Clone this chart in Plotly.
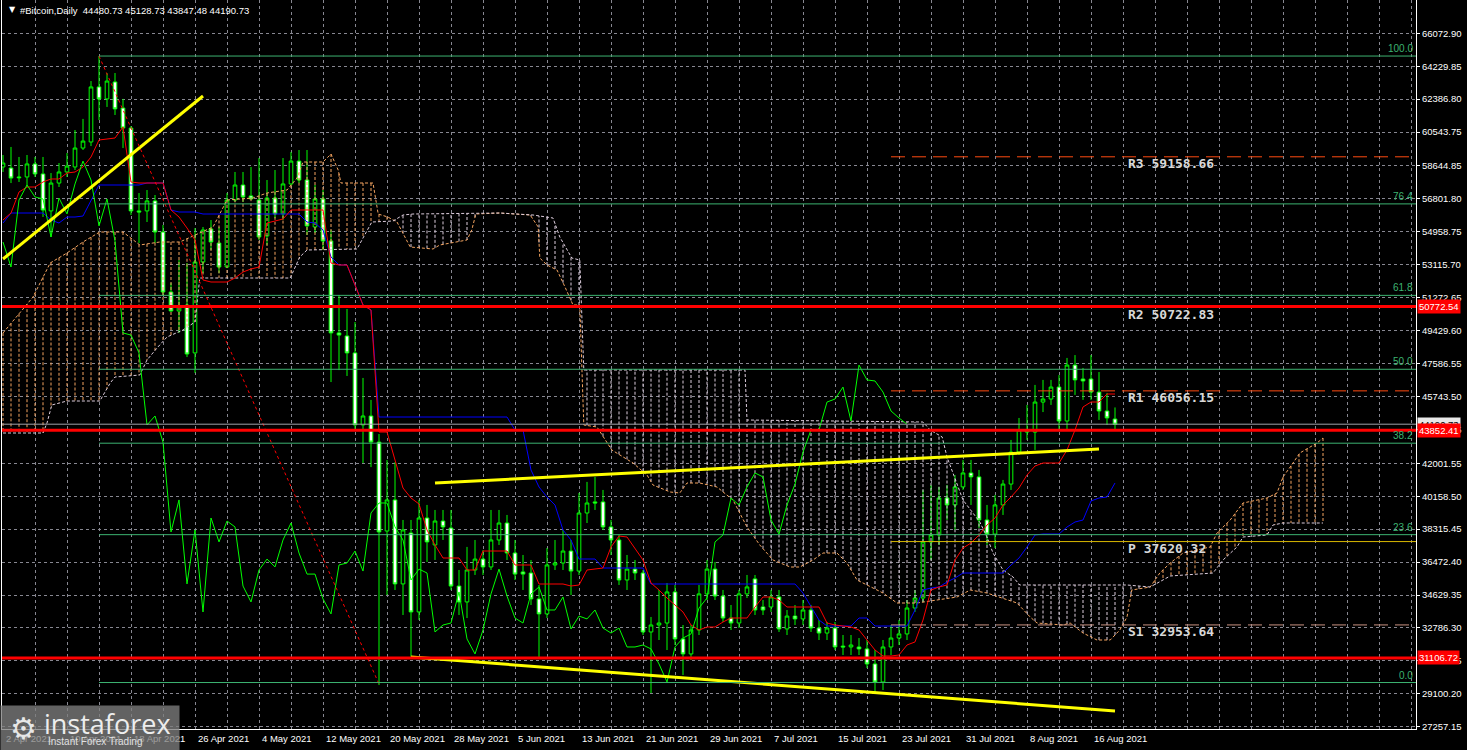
import numpy as np
import pandas as pd
import plotly.graph_objects as go

BASE = pd.Timestamp("2021-04-02")
DAY = pd.Timedelta(days=1)

# ---------------- candles (daily, 2 Apr 2021 .. 19 Aug 2021) ----------------
opens = [58590, 58530, 58030, 58030, 58760, 58200, 56130, 57690, 58310, 58590,
         59650, 59990, 63070, 62400, 63350, 61890, 60770, 56130, 56130, 56690,
         54950, 51590, 50530, 50860, 48180, 53270, 55120, 54330, 52990, 56740,
         57580, 56970, 56740, 54730, 56850, 55960, 57640, 58920, 57860, 55230,
         56800, 54450, 49300, 49130, 48180, 44150, 44650, 43190, 38210, 39950,
         35250, 38100, 33680, 38940, 37430, 38770, 38380, 35130, 34240, 36030,
         36640, 36200, 37710, 38660, 36980, 35920, 35860, 34410, 33570, 36310,
         36420, 37090, 35970, 39220, 39840, 39840, 38440, 37710, 35470, 36080,
         35860, 32560, 32950, 33060, 34800, 32170, 31330, 32670, 34690, 36080,
         34570, 33340, 33060, 34690, 35530, 33960, 33960, 34520, 32730, 33450,
         33290, 33790, 32780, 32500, 32780, 31770, 31720, 31720, 31610, 30770,
         29760, 31720, 32220, 32450, 33900, 34460, 37600, 37990, 40060, 39670,
         40680, 41460, 41240, 38830, 38040, 39670, 40840, 42630, 43750, 43750,
         45430, 45600, 46270, 44370, 47500, 46720, 46720, 45990, 44930, 44480.73]
highs = [59260, 59710, 59150, 59260, 59150, 59150, 58250, 58810, 59370, 60660,
         61280, 63400, 64800, 63850, 63850, 62400, 60880, 57130, 57300, 57020,
         55340, 52100, 53380, 53210, 55170, 55230, 55620, 55230, 57130, 58310,
         58310, 58590, 59090, 57860, 58420, 59090, 59430, 59540, 59540, 57580,
         57300, 55060, 51420, 50640, 49910, 46780, 45550, 43640, 42190, 42070,
         38830, 38830, 39950, 39670, 39390, 39390, 39390, 36030, 37320, 37710,
         37150, 39390, 39390, 39110, 37710, 36870, 36590, 35190, 37260, 37710,
         38270, 37710, 40340, 40960, 41240, 40510, 38830, 37990, 36870, 36590,
         36030, 33400, 34910, 35300, 35190, 32950, 32950, 35190, 36590, 36480,
         34910, 34070, 34910, 35750, 35750, 34350, 34910, 34910, 33790, 34070,
         34350, 34070, 33230, 33120, 33120, 32390, 32390, 32220, 32110, 31550,
         32110, 32950, 33230, 34350, 34910, 40510, 40790, 40680, 40790, 41350,
         42190, 42190, 41630, 39670, 40230, 41070, 43310, 44540, 45270, 46390,
         46670, 46670, 46940, 47900, 48060, 47340, 48060, 47110, 45940, 45128.73]
lows = [58310, 57690, 57750, 57470, 58030, 55790, 54670, 57470, 58030, 58420,
        59540, 59760, 61220, 61950, 61500, 59650, 55900, 54330, 55510, 54330,
        51370, 50470, 49300, 47950, 47060, 52650, 53940, 52650, 52930, 56630,
        56630, 56740, 54500, 54220, 55730, 55620, 57530, 57690, 54780, 54890,
        53940, 46550, 47220, 46890, 43870, 42020, 41790, 29590, 34630, 34910,
        33510, 31160, 33230, 36480, 36590, 37710, 34910, 33510, 33340, 35750,
        35750, 36030, 37430, 36590, 35470, 34910, 34070, 31160, 33340, 36030,
        36030, 34630, 35750, 38660, 39390, 38270, 36870, 35190, 34910, 35470,
        32390, 29140, 32110, 31550, 31830, 30150, 30990, 32390, 34350, 34350,
        33120, 32670, 32780, 34460, 33510, 33510, 33680, 32560, 32390, 32950,
        32950, 32560, 32110, 32110, 31550, 31270, 31270, 31270, 30540, 29200,
        29310, 31270, 31830, 32110, 33680, 34240, 36590, 37430, 38830, 38270,
        40510, 39670, 38380, 37430, 37260, 39110, 40510, 42470, 43310, 42750,
        44870, 45270, 43870, 43870, 45830, 45550, 45550, 44430, 44150, 43847.48]
closes = [58810, 57970, 57990, 58760, 58200, 56180, 57690, 58310, 58640, 59650,
          60040, 63070, 62400, 63400, 61840, 60770, 56130, 56070, 56690, 54950,
          51590, 50530, 50810, 48120, 53270, 55060, 54390, 52990, 56740, 57580,
          56910, 56800, 54670, 56850, 55960, 57640, 58920, 57860, 55290, 56800,
          54450, 49300, 49180, 48180, 44150, 44650, 43190, 38160, 39950, 35250,
          38270, 33680, 38940, 37600, 38770, 38440, 35130, 34240, 36030, 36640,
          36200, 37710, 38660, 36980, 35800, 35800, 34410, 33570, 36310, 36420,
          37090, 35970, 39220, 39780, 39780, 38440, 37710, 35470, 36080, 35860,
          32560, 32950, 33060, 34800, 32170, 31330, 32670, 34690, 36080, 34570,
          33340, 33060, 34690, 35080, 33790, 33790, 34520, 32730, 33450, 33290,
          33790, 32780, 32500, 32780, 31720, 31720, 31830, 31610, 30770, 29760,
          31720, 32220, 32450, 33900, 34460, 37600, 37990, 40060, 39670, 40680,
          41460, 41240, 38830, 38040, 39670, 40840, 42630, 43870, 43870, 45430,
          45600, 46270, 44370, 47500, 46670, 46610, 45990, 44930, 44540, 44190.73]
dates = BASE + DAY * np.arange(len(opens))

# ---------------- Ichimoku ----------------
tenkan = [55621, 56013, 57189, 57469, 57469, 57749, 57917, 57917, 58252, 58308,
          58588, 59148, 60100, 60156, 60212, 60828, 57749, 57693, 57693, 57693,
          57693, 56181, 55789, 55174, 54502, 52263, 52151, 52151, 52151, 52375,
          52711, 52878, 52990, 55453, 55565, 55677, 56181, 56181, 56181, 56181,
          56181, 53214, 53102, 53102, 51983, 50863, 50583, 43754, 43754, 42186,
          40619, 40059, 39723, 38268, 37428, 36700, 36700, 36700, 36028, 36028,
          37092, 37092, 37092, 37092, 36308, 36308, 36308, 35245, 35245, 35245,
          35245, 35133, 35189, 36028, 36084, 36140, 37316, 37932, 37876, 37260,
          36588, 35301, 34909, 34461, 34069, 33677, 32949, 32670, 32838, 32838,
          33117, 33341, 33341, 33341, 33957, 34517, 34517, 34349, 33957, 33957,
          33957, 33957, 33957, 33061, 32949, 32894, 32838, 32670, 32110, 31550,
          31214, 31214, 31270, 31830, 32001, 33229, 34909, 35077, 35189, 36588,
          37260, 37540, 37988, 38547, 38939, 39667, 40115, 40619, 41346, 41850,
          42018, 42018, 42018, 42746, 43866, 45153, 45433, 45433, 45881, 45881]
kijun = [55453, 56013, 56013, 56013, 56013, 56013, 55621, 55453, 55789, 55789,
         55845, 56741, 57581, 57581, 57581, 57581, 57581, 57581, 57693, 57693,
         57693, 56181, 56069, 56069, 56069, 55957, 55957, 55957, 55957, 55957,
         55957, 55957, 55957, 55957, 55957, 55957, 55957, 55957, 55509, 55453,
         55062, 53550, 53102, 53102, 51983, 50863, 50583, 44593, 44593, 44593,
         44593, 44593, 44593, 44593, 44593, 44593, 44593, 44593, 44593, 44593,
         44593, 44593, 44593, 44593, 43866, 43866, 41626, 40675, 40115, 39667,
         38268, 37708, 36644, 36644, 36644, 36140, 36140, 36140, 36140, 36140,
         36140, 35245, 35245, 35245, 35245, 35245, 35245, 35245, 35245, 35245,
         35245, 35245, 35245, 35245, 35245, 35245, 35245, 35245, 35245, 35245,
         34741, 33957, 33229, 32894, 32894, 32894, 32894, 33341, 33341, 32894,
         32894, 32894, 32894, 32894, 33789, 34909, 35021, 35077, 35357, 35581,
         35860, 35860, 35860, 35860, 35860, 35860, 36308, 36700, 37316, 37988,
         38044, 38044, 38044, 38436, 38716, 38827, 39891, 40059, 40115, 40899]
CHIKOU_SHIFT = 26

span_a_days = [0, 3.75, 5.9, 8, 10, 12.1, 15, 17.1, 19.6, 22.1, 23.75, 26.25, 28, 31.25, 33,
               35.5, 36.75, 37.5, 40, 41, 41.9, 42.25, 46.25, 46.9, 48.1, 49.25, 50.9, 53.75,
               54.6, 58, 58.6, 59.1, 62.1, 65.9, 66.9, 67.1, 68, 69.25, 70.25, 71.25, 72.1,
               72.6, 74.25, 76.1, 78.75, 80.5, 81.25, 83.4, 84.6, 85.5, 87.1, 89.25, 91.25,
               93, 94.6, 96.25, 98.4, 99.6, 101.25, 102.5, 104.25, 105.5, 106.75, 107.5, 110,
               111.75, 114.25, 116.75, 119.25, 120.9, 123, 126.75, 128.4, 129.25, 132.5,
               133.4, 135, 136.75, 138.4, 139.6, 140.5, 141.1, 143.4, 144.6, 145.9, 147.5,
               150.9, 151.75, 153.4, 155, 158, 159.25, 160, 161.25, 162.1, 164.25, 165]
span_a = [49296, 51311, 53214, 53774, 54390, 54950, 54950, 54222, 54390, 54390, 54726,
          55230, 56741, 56853, 57133, 57301, 57973, 58868, 58868, 59316, 58420, 57693,
          57693, 55957, 55789, 55509, 54110, 53998, 54222, 54502, 55062, 55957, 56013,
          55901, 55230, 53494, 53102, 52822, 51871, 50863, 50863, 44145, 44034, 42746,
          42018, 41346, 40787, 40395, 40339, 40899, 40899, 40675, 39947, 38436, 37428,
          36588, 36196, 36196, 36588, 36980, 36980, 36420, 35469, 35301, 34741, 34181,
          34181, 34349, 34517, 34909, 34741, 34181, 33397, 33061, 32949, 33061, 32502,
          32110, 32110, 32670, 33397, 34909, 35077, 35860, 36420, 36980, 37316, 38100,
          38827, 39779, 40059, 40339, 41235, 42018, 42578, 43138, 43418]
span_b_days = [0, 5, 5.5, 6.1, 8, 12.1, 13.4, 14, 17.1, 18, 19.25, 20.5, 22.5, 24, 24.6,
               35.9, 37.1, 38, 44.25, 45.5, 46.1, 48.75, 50, 51.25, 62.1, 66.25, 68.75,
               69.6, 70.5, 71.1, 72.1, 72.6, 92.75, 93, 115, 115.9, 117.4, 118, 120,
               121.25, 122.1, 123, 123.75, 125, 126.25, 127.1, 140.5, 143.4, 145.9,
               151.25, 152.5, 154.25, 155, 158, 158.75, 160, 165]
span_b = [43698, 43698, 44257, 45265, 45489, 45489, 46497, 46833, 46944, 47784, 48456,
          49072, 49464, 49911, 52375, 52375, 53550, 53942, 53998, 55062, 55509, 55565,
          55901, 55957, 56013, 55901, 55733, 54670, 53942, 53494, 53382, 47224, 47224,
          44425, 44313, 43866, 43474, 42354, 39947, 39219, 38715, 37876, 36980, 36028,
          35637, 35189, 35189, 35077, 35693, 35860, 36588, 37316, 37876, 37988, 38547,
          38659, 38659]

# ---------------- drawn objects ----------------
fib_levels = [64800, 56523, 51403, 47265, 43127, 38007, 29730]
fib_names = ["100.0", "76.4", "61.8", "50.0", "38.2", "23.6", "0.0"]
fib_start = pd.Timestamp("2021-04-14")
fib_diag_dates = [pd.Timestamp("2021-04-14"), pd.Timestamp("2021-05-19")]
fib_diag_prices = [64800, 29650]

pivot_names = ["R3", "R2", "R1", "P", "S1"]
pivot_values = [59158.66, 50722.83, 46056.15, 37620.32, 32953.64]
pivot_colors = ["#FF4A10", "#FF4A10", "#FF4A10", "#D9B800", "#C8907F"]
pivot_start = pd.Timestamp("2021-07-22")

key_levels = [50772.54, 43852.41, 31106.72]
bid_price = 44190.73

trend_up_dates = [pd.Timestamp("2021-04-02"), pd.Timestamp("2021-04-27")]
trend_up_prices = [53438, 62563]
chan_top_dates = [pd.Timestamp("2021-05-26"), pd.Timestamp("2021-08-17")]
chan_top_prices = [40899, 42802]
chan_bot_dates = [pd.Timestamp("2021-05-23"), pd.Timestamp("2021-08-19")]
chan_bot_prices = [31158, 28135]

price_ticks = [66072.90, 64229.85, 62386.80, 60543.75, 58644.85, 56801.80, 54958.75,
               53115.70, 51272.65, 49429.60, 47586.55, 45743.50, 43900.45, 42001.55,
               40158.50, 38315.45, 36472.40, 34629.35, 32786.30, 30943.25, 29100.20,
               27257.15]
price_tick_text = ["%.2f" % v for v in price_ticks]

date_labels = ["2 Apr 2021", "10 Apr 2021", "18 Apr 2021", "26 Apr 2021", "4 May 2021",
               "12 May 2021", "20 May 2021", "28 May 2021", "5 Jun 2021", "13 Jun 2021",
               "21 Jun 2021", "29 Jun 2021", "7 Jul 2021", "15 Jul 2021", "23 Jul 2021",
               "31 Jul 2021", "8 Aug 2021", "16 Aug 2021"]
label_dates = [BASE + DAY * 8 * k for k in range(len(date_labels))]

title_text = "#Bitcoin,Daily  44480.73 45128.73 43847.48 44190.73"

# ---------------- layout constants ----------------
X_LEFT = BASE - pd.Timedelta(hours=3)
X_RIGHT = BASE + pd.Timedelta(days=176, hours=15)
Y_RANGE = [27128, 67937]
GRID = "rgb(135,135,145)"
LIME = "#00FF00"
FONT = "Liberation Sans"

fig = go.Figure()

fig.add_trace(go.Candlestick(
    x=dates, open=opens, high=highs, low=lows, close=closes,
    increasing=dict(line=dict(color=LIME, width=1), fillcolor="#000000"),
    decreasing=dict(line=dict(color=LIME, width=1), fillcolor="#FFFFFF"),
    whiskerwidth=0, showlegend=False, hoverinfo="skip"))

# cloud hatching
cloud_days = np.arange(0, 166)
a_i = np.interp(cloud_days, span_a_days, span_a)
b_i = np.interp(cloud_days, span_b_days, span_b)
hx_up, hy_up, hx_dn, hy_dn = [], [], [], []
for d, a, b in zip(cloud_days, a_i, b_i):
    t = BASE + DAY * int(d)
    if a >= b:
        hx_up += [t, t, None]; hy_up += [a, b, None]
    else:
        hx_dn += [t, t, None]; hy_dn += [a, b, None]
fig.add_trace(go.Scatter(x=hx_up, y=hy_up, mode="lines", showlegend=False, hoverinfo="skip",
                         line=dict(color="#F4A460", width=1, dash="3px,2px")))
fig.add_trace(go.Scatter(x=hx_dn, y=hy_dn, mode="lines", showlegend=False, hoverinfo="skip",
                         line=dict(color="#DCCCDC", width=1, dash="3px,2px")))
fig.add_trace(go.Scatter(x=[BASE + DAY * d for d in span_a_days], y=span_a, mode="lines",
                         showlegend=False, hoverinfo="skip",
                         line=dict(color="#F4A460", width=1, dash="3px,2px")))
fig.add_trace(go.Scatter(x=[BASE + DAY * d for d in span_b_days], y=span_b, mode="lines",
                         showlegend=False, hoverinfo="skip",
                         line=dict(color="#DCCCDC", width=1, dash="3px,2px")))

fig.add_trace(go.Scatter(x=dates, y=kijun, mode="lines", showlegend=False, hoverinfo="skip",
                         line=dict(color="#0000FF", width=1)))
fig.add_trace(go.Scatter(x=dates, y=tenkan, mode="lines", showlegend=False, hoverinfo="skip",
                         line=dict(color="#FF0000", width=1)))
fig.add_trace(go.Scatter(x=dates[:len(dates) - CHIKOU_SHIFT], y=closes[CHIKOU_SHIFT:],
                         mode="lines", showlegend=False, hoverinfo="skip",
                         line=dict(color=LIME, width=1)))

# trend lines
for xs, ys in [(trend_up_dates, trend_up_prices), (chan_top_dates, chan_top_prices),
               (chan_bot_dates, chan_bot_prices)]:
    fig.add_trace(go.Scatter(x=xs, y=ys, mode="lines", showlegend=False, hoverinfo="skip",
                             line=dict(color="#FFFF00", width=3)))
fig.add_trace(go.Scatter(x=fib_diag_dates, y=fib_diag_prices, mode="lines", showlegend=False,
                         hoverinfo="skip", line=dict(color="#FF0000", width=1, dash="dot")))

shapes = []
annotations = []

# fibonacci levels
for lvl, name in zip(fib_levels, fib_names):
    shapes.append(dict(type="line", xref="x", yref="y", x0=fib_start, x1=X_RIGHT, y0=lvl, y1=lvl,
                       line=dict(color="#3CB371", width=1), layer="above"))
    annotations.append(dict(xref="paper", yref="y", x=1, y=lvl, xanchor="right", yanchor="bottom",
                            xshift=-1, yshift=0, text=name, showarrow=False,
                            font=dict(family=FONT, size=10, color="#3CB371")))

# pivot levels
for name, val, col in zip(pivot_names, pivot_values, pivot_colors):
    if name == "P":
        dash = "solid"
    else:
        dash = "14px,7px"
    shapes.append(dict(type="line", xref="x", yref="y", x0=pivot_start, x1=X_RIGHT, y0=val, y1=val,
                       line=dict(color=col, width=1, dash=dash), layer="above"))
    annotations.append(dict(xref="x", yref="y", x=BASE + DAY * 140.4, y=val, xanchor="left",
                            yanchor="middle", yshift=-7, text="<b>%s %.2f</b>" % (name, val),
                            showarrow=False,
                            font=dict(family="DejaVu Sans Mono", size=13, color="#D8D8D8")))

# bid line and key red levels
shapes.append(dict(type="line", xref="paper", yref="y", x0=0, x1=1, y0=bid_price, y1=bid_price,
                   line=dict(color="#A0A0A8", width=1), layer="above"))
for lv in key_levels:
    shapes.append(dict(type="line", xref="paper", yref="y", x0=0, x1=1, y0=lv, y1=lv,
                       line=dict(color="#FF0000", width=3), layer="above"))

# date labels
for d, txt in zip(label_dates, date_labels):
    annotations.append(dict(xref="x", yref="paper", x=d, y=0, xanchor="left", yanchor="top",
                            xshift=1, yshift=-2, text=txt, showarrow=False,
                            font=dict(family=FONT, size=9.5, color="#FFFFFF")))

# right price boxes
annotations.append(dict(xref="paper", yref="y", x=1, y=bid_price, xanchor="left", yanchor="middle",
                        xshift=1, text="%.2f" % bid_price, showarrow=False, bgcolor="#E8E8E8",
                        borderpad=1, font=dict(family=FONT, size=9.5, color="#000000")))
for lv in key_levels:
    annotations.append(dict(xref="paper", yref="y", x=1, y=lv, xanchor="left", yanchor="middle",
                            xshift=1, text="%.2f" % lv, showarrow=False, bgcolor="#FF0000",
                            borderpad=1, font=dict(family=FONT, size=9.5, color="#FFFFFF")))

# title
annotations.append(dict(xref="paper", yref="paper", x=0, y=1, xanchor="left", yanchor="top",
                        xshift=5, yshift=-3, text="▼", showarrow=False,
                        font=dict(family="DejaVu Sans", size=8, color="#FFFFFF")))
annotations.append(dict(xref="paper", yref="paper", x=0, y=1, xanchor="left", yanchor="top",
                        xshift=16, yshift=-3, text=title_text, showarrow=False,
                        font=dict(family=FONT, size=9.5, color="#FFFFFF")))

# logo
annotations.append(dict(xref="paper", yref="paper", x=0, y=0, xanchor="left", yanchor="top",
                        xshift=-2, yshift=24, text=" ", showarrow=False, width=176, height=43,
                        bgcolor="rgba(125,125,125,0.78)", borderpad=1))
annotations.append(dict(xref="paper", yref="paper", x=0, y=0, xanchor="left", yanchor="middle",
                        xshift=6, yshift=1, text="⚙", showarrow=False,
                        font=dict(family="DejaVu Sans", size=30, color="#E6E6E6")))
annotations.append(dict(xref="paper", yref="paper", x=0, y=0, xanchor="left", yanchor="middle",
                        xshift=40, yshift=6, text="instaforex", showarrow=False,
                        font=dict(family="Open Sans", size=27, color="#EDEDED")))
annotations.append(dict(xref="paper", yref="paper", x=0, y=0, xanchor="left", yanchor="middle",
                        xshift=44, yshift=-12, text="Instant Forex Trading", showarrow=False,
                        font=dict(family=FONT, size=10, color="#E0E0E0")))

fig.update_layout(
    width=1467, height=750,
    margin=dict(l=2, r=51, t=0, b=21),
    paper_bgcolor="#000000", plot_bgcolor="#000000",
    showlegend=False,
    shapes=shapes, annotations=annotations,
    boxgap=0.35,
    xaxis=dict(type="date", range=[X_LEFT, X_RIGHT], rangeslider=dict(visible=False),
               tick0=BASE, dtick=4 * 86400000, showticklabels=False, ticks="",
               showgrid=True, gridcolor=GRID, griddash="3px,3px", gridwidth=1,
               showline=True, linecolor="#FFFFFF", linewidth=1, zeroline=False, fixedrange=True),
    yaxis=dict(side="right", range=Y_RANGE, tickmode="array", tickvals=price_ticks,
               ticktext=price_tick_text, ticks="outside", ticklen=3, tickcolor="#FFFFFF",
               tickfont=dict(family=FONT, size=9.5, color="#FFFFFF"),
               showgrid=True, gridcolor=GRID, griddash="3px,3px", gridwidth=1,
               showline=True, mirror=True, linecolor="#FFFFFF", linewidth=1, zeroline=False,
               fixedrange=True),
)

fig.write_html("out.html", config={"displayModeBar": False},
               post_script="document.body.style.margin='0';document.body.style.overflow='hidden';")
